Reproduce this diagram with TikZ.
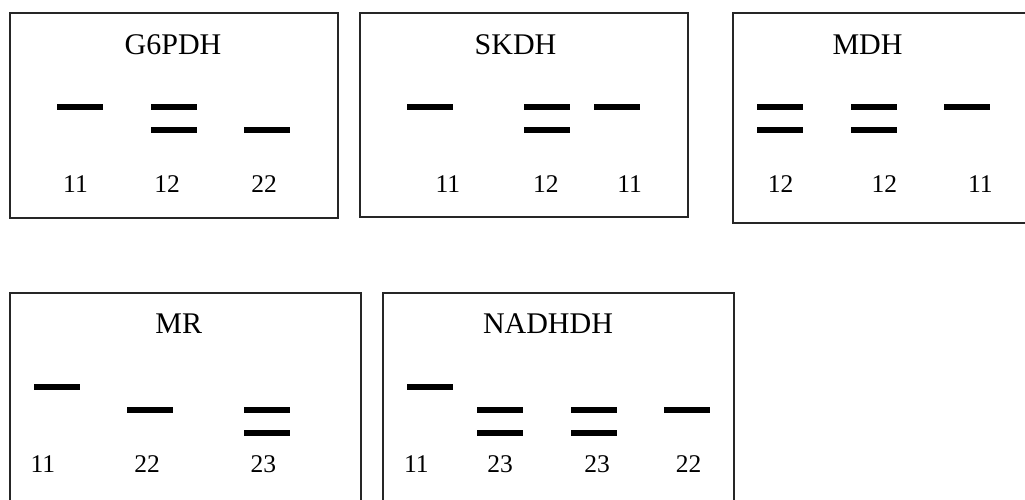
\documentclass[tikz,border=0pt]{standalone}
\usepackage{fontspec}
\setmainfont{Liberation Serif}
\begin{document}
\begin{tikzpicture}[x=1pt,y=-1pt,
  gelbox/.style={draw=black!85,line width=1.1pt},
  band/.style={line width=6pt,black},
  title/.style={anchor=base,inner sep=0pt,font=\fontsize{30}{36}\selectfont},
  lane/.style={anchor=base,inner sep=0pt,font=\fontsize{25.5}{30}\selectfont}]
\useasboundingbox (0,0) rectangle (1025,499);
\clip (0,0) rectangle (1025,499);
% boxes
\draw[gelbox] (10,13) rectangle (338,218);
\draw[gelbox] (360,13) rectangle (688,217);
\draw[gelbox] (733,13) rectangle (1040,223);
\draw[gelbox] (10,293) rectangle (361,520);
\draw[gelbox] (383,293) rectangle (734,520);
% titles
\node[title] (t1) at (173,54.3) {G6PDH};
\node[title] (t2) at (515.5,54.3) {SKDH};
\node[title] (t3) at (867.5,54.3) {MDH};
\node[title] (t4) at (178.7,333.3) {MR};
\node[title] (t5) at (548,333.3) {NADHDH};
% lane labels
\node[lane] (a1) at (75.5,192.3) {11};
\node[lane] (a2) at (167,192.3) {12};
\node[lane] (a3) at (264,192.3) {22};
\node[lane] (b1) at (447.8,192.3) {11};
\node[lane] (b2) at (545.8,192.3) {12};
\node[lane] (b3) at (629.7,192.3) {11};
\node[lane] (c1) at (780.7,192.3) {12};
\node[lane] (c2) at (884.3,192.3) {12};
\node[lane] (c3) at (980.3,192.3) {11};
\node[lane] (d1) at (42.8,472) {11};
\node[lane] (d2) at (147.2,472) {22};
\node[lane] (d3) at (263.3,472) {23};
\node[lane] (e1) at (416.3,472) {11};
\node[lane] (e2) at (500,472) {23};
\node[lane] (e3) at (597,472) {23};
\node[lane] (e4) at (688.7,472) {22};
% bands G6PDH
\draw[band] (57,106.7) -- (103,106.7);
\draw[band] (151,106.7) -- (197,106.7);
\draw[band] (151,130) -- (197,130);
\draw[band] (244,130) -- (290,130);
% bands SKDH
\draw[band] (407,106.7) -- (453,106.7);
\draw[band] (524,106.7) -- (570,106.7);
\draw[band] (524,130) -- (570,130);
\draw[band] (594,106.7) -- (640,106.7);
% bands MDH
\draw[band] (757,106.7) -- (803,106.7);
\draw[band] (757,130) -- (803,130);
\draw[band] (851,106.7) -- (897,106.7);
\draw[band] (851,130) -- (897,130);
\draw[band] (944,106.7) -- (990,106.7);
% bands MR
\draw[band] (34,386.7) -- (80,386.7);
\draw[band] (127,410) -- (173,410);
\draw[band] (244,410) -- (290,410);
\draw[band] (244,433.3) -- (290,433.3);
% bands NADHDH
\draw[band] (407,386.7) -- (453,386.7);
\draw[band] (477,410) -- (523,410);
\draw[band] (477,433.3) -- (523,433.3);
\draw[band] (571,410) -- (617,410);
\draw[band] (571,433.3) -- (617,433.3);
\draw[band] (664,410) -- (710,410);
\end{tikzpicture}
\end{document}
